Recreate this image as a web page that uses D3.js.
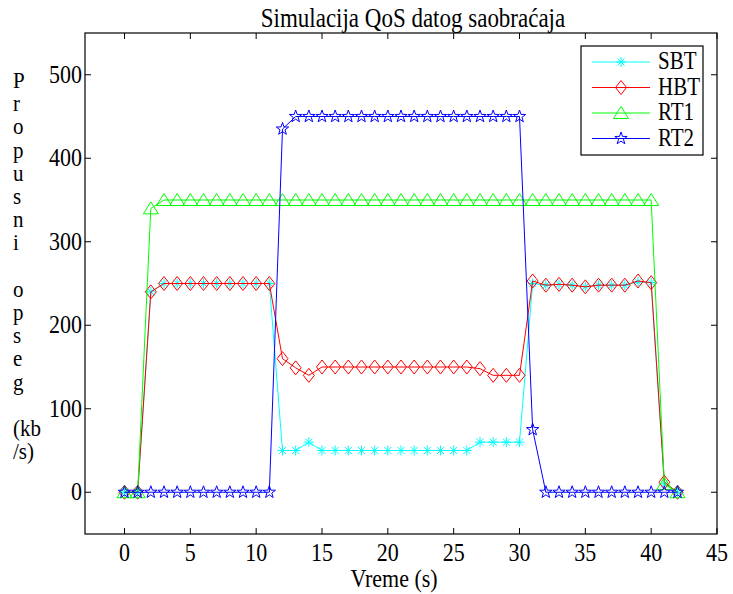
<!DOCTYPE html>
<html>
<head>
<meta charset="utf-8">
<script src="https://cdn.jsdelivr.net/npm/d3@7"></script>
<style>
  body { margin: 0; background: #fff; }
  svg text { font-family: "Liberation Serif", "DejaVu Serif", serif; }
</style>
</head>
<body>
<div id="chart"></div>
<script>
// time axis, 0..42 s
const time = d3.range(0, 43);

const sbt = [0, 0, 240, 250, 250, 250, 250, 250, 250, 250, 250, 250,
  50, 50, 60, 50, 50, 50, 50, 50, 50, 50, 50, 50, 50, 50, 50,
  60, 60, 60, 60, 250, 248, 249, 248, 246, 248, 248, 248, 252, 251, 10, 0];
const hbt = [0, 0, 240, 250, 250, 250, 250, 250, 250, 250, 250, 250,
  160, 149, 140, 150, 150, 150, 150, 150, 150, 150, 150, 150, 150, 150, 150,
  148, 140, 140, 140, 253, 248, 249, 248, 246, 248, 248, 248, 253, 251, 12, 0];
const rt1 = [0, 0, 340, 350, 350, 350, 350, 350, 350, 350, 350, 350,
  350, 350, 350, 350, 350, 350, 350, 350, 350, 350, 350, 350, 350, 350, 350,
  350, 350, 350, 350, 350, 350, 350, 350, 350, 350, 350, 350, 350, 350, 10, 0];
const rt2 = [0, 0, 0, 0, 0, 0, 0, 0, 0, 0, 0, 0,
  435, 450, 450, 450, 450, 450, 450, 450, 450, 450, 450, 450, 450, 450, 450,
  450, 450, 450, 450, 75, 0, 0, 0, 0, 0, 0, 0, 0, 0, 0, 0];

const seriesNames = ["SBT", "HBT", "RT1", "RT2"];
const seriesColors = ["#00ffff", "#ff0000", "#00ff00", "#0000ff"];
const seriesMarkers = ["asterisk", "diamond", "triangle", "star"];
const seriesValues = [sbt, hbt, rt1, rt2];

const xTicks = [0, 5, 10, 15, 20, 25, 30, 35, 40, 45];
const yTicks = [0, 100, 200, 300, 400, 500];
const yLabelLines = ["P", "r", "o", "p", "u", "s", "n", "i", "", "o", "p", "s", "e", "g", "", "(kb", "/s)"];

const W = 733, H = 594;
const m = { left: 85, right: 16, top: 33, bottom: 60 };

const svg = d3.select("#chart").append("svg")
  .attr("width", W).attr("height", H);

const x = d3.scaleLinear().domain([-3, 45]).range([m.left, W - m.right]);
const y = d3.scaleLinear().domain([-50, 550]).range([H - m.bottom, m.top]);

// text slightly taller than wide, like the exported figure
function label(parent, tx, ty, s, size, anchor, sy) {
  return parent.append("text")
    .attr("transform", `translate(${tx},${ty}) scale(1,${sy || 1.15})`)
    .attr("text-anchor", anchor || "start")
    .attr("font-size", size)
    .attr("fill", "#000")
    .text(s);
}

// marker paths
function markerPath(type) {
  if (type === "asterisk") {
    const r = 5, d = r * 0.72;
    return `M${-r},0L${r},0M0,${-r}L0,${r}M${-d},${-d}L${d},${d}M${-d},${d}L${d},${-d}`;
  }
  if (type === "diamond") {
    return "M0,-7L5.5,0L0,7L-5.5,0Z";
  }
  if (type === "triangle") {
    return "M0,-6.5L7.5,5.5L-7.5,5.5Z";
  }
  // pentagram
  const pts = [];
  for (let i = 0; i < 10; i++) {
    const r = i % 2 === 0 ? 6.5 : 2.6;
    const a = -Math.PI / 2 + i * Math.PI / 5;
    pts.push([r * Math.cos(a), r * Math.sin(a)]);
  }
  return "M" + pts.map(p => p.join(",")).join("L") + "Z";
}

const plot = svg.append("g");
const line = d3.line().x((d, i) => x(time[i])).y(d => y(d));

seriesValues.forEach((vals, k) => {
  const g = plot.append("g");
  g.append("path")
    .attr("d", line(vals))
    .attr("fill", "none")
    .attr("stroke", seriesColors[k])
    .attr("stroke-width", 1);
  g.selectAll("path.mk").data(vals).enter().append("path")
    .attr("class", "mk")
    .attr("d", markerPath(seriesMarkers[k]))
    .attr("transform", (d, i) => `translate(${x(time[i])},${y(d)})`)
    .attr("fill", "none")
    .attr("stroke", seriesColors[k])
    .attr("stroke-width", 1);
});

// axes box + inward ticks (MATLAB style)
const axes = svg.append("g");
axes.append("rect")
  .attr("x", m.left).attr("y", m.top)
  .attr("width", W - m.right - m.left).attr("height", H - m.bottom - m.top)
  .attr("fill", "none").attr("stroke", "#000").attr("stroke-width", 1.2);

const tl = 6;
xTicks.forEach(t => {
  axes.append("line").attr("x1", x(t)).attr("x2", x(t))
    .attr("y1", y(-50)).attr("y2", y(-50) - tl).attr("stroke", "#000");
  axes.append("line").attr("x1", x(t)).attr("x2", x(t))
    .attr("y1", y(550)).attr("y2", y(550) + tl).attr("stroke", "#000");
  label(axes, x(t), 561, t, 22, "middle");
});
yTicks.forEach(t => {
  axes.append("line").attr("x1", x(-3)).attr("x2", x(-3) + tl)
    .attr("y1", y(t)).attr("y2", y(t)).attr("stroke", "#000");
  axes.append("line").attr("x1", x(45)).attr("x2", x(45) - tl)
    .attr("y1", y(t)).attr("y2", y(t)).attr("stroke", "#000");
  label(axes, m.left - 3, y(t) + 8, t, 22, "end");
});

// title and x label
label(svg, 413, 27, "Simulacija QoS datog saobraćaja", 23, "middle");
label(svg, 394, 587, "Vreme (s)", 22, "middle");

// stacked y label
yLabelLines.forEach((s, i) => {
  label(svg, 13, 88 + i * 23.2, s, 21, "start", 1.05);
});

// legend
const leg = svg.append("g");
leg.append("rect").attr("x", 581).attr("y", 46).attr("width", 122).attr("height", 109)
  .attr("fill", "#fff").attr("stroke", "#000").attr("stroke-width", 1.2);
seriesNames.forEach((name, k) => {
  const ly = 62 + k * 25.5;
  leg.append("line").attr("x1", 592).attr("x2", 650).attr("y1", ly).attr("y2", ly)
    .attr("stroke", seriesColors[k]);
  leg.append("path").attr("d", markerPath(seriesMarkers[k]))
    .attr("transform", `translate(621,${ly})`)
    .attr("fill", "none").attr("stroke", seriesColors[k]);
  label(leg, 658, ly + 7, name, 21);
});
</script>
</body>
</html>
